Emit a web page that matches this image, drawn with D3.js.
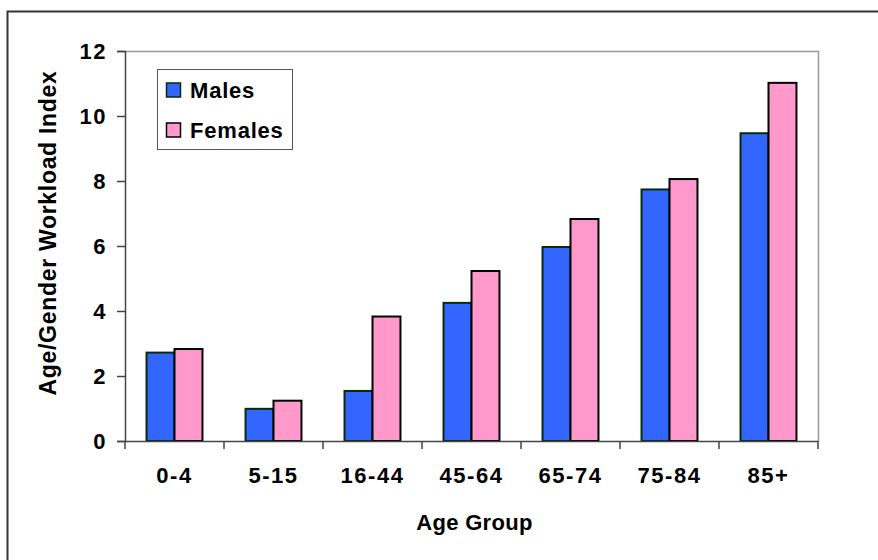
<!DOCTYPE html>
<html>
<head>
<meta charset="utf-8">
<script src="https://cdn.jsdelivr.net/npm/d3@7"></script>
<style>
  html, body { margin: 0; padding: 0; background: #fff; }
  svg { display: block; }
  text { font-family: "Liberation Sans", Arial, Helvetica, sans-serif; font-weight: bold; fill: #000; }
</style>
</head>
<body>
<svg id="chart" width="878" height="560"></svg>
<script>
// Age groups and workload index per gender
const ageGroups = ["0-4", "5-15", "16-44", "45-64", "65-74", "75-84", "85+"];
const seriesNames = ["Males", "Females"];
const malesValues = [2.72, 0.99, 1.54, 4.25, 5.97, 7.74, 9.47];
const femalesValues = [2.83, 1.24, 3.83, 5.23, 6.83, 8.06, 11.02];
const yTickValues = [0, 2, 4, 6, 8, 10, 12];

const colors = { Males: "#3366ff", Females: "#ff99cc" };
const strokes = { Males: "#0a2a0a", Females: "#000000" };

const rows = ageGroups.map((g, i) => ({ group: g, Males: malesValues[i], Females: femalesValues[i] }));

const svg = d3.select("#chart");
const plot = { left: 125, right: 818, top: 51, bottom: 441 };
const fontFamily = '"Liberation Sans", Arial, sans-serif';

// Outer chart frame
svg.append("path")
  .attr("d", `M7.5,${560 + 5} V11.5 H${878 + 5}`)
  .attr("fill", "none").attr("stroke", "#333").attr("stroke-width", 2);

const x0 = d3.scaleBand().domain(ageGroups).range([plot.left, plot.right]).paddingInner(0).paddingOuter(0);
const x1 = d3.scaleBand().domain(seriesNames).range([0, x0.bandwidth()]).paddingInner(0).paddingOuter(0.77);
const y = d3.scaleLinear().domain([0, 12]).range([plot.bottom, plot.top]);

// Plot area border (top and right)
svg.append("path")
  .attr("d", `M${plot.left},${plot.top + 0.5} H${plot.right + 0.5} V${plot.bottom}`)
  .attr("fill", "none").attr("stroke", "#999").attr("stroke-width", 1.5);

// Bars
const groups = svg.append("g").selectAll("g").data(rows).join("g")
  .attr("transform", d => `translate(${x0(d.group)},0)`);
groups.selectAll("rect")
  .data(d => seriesNames.map(k => ({ key: k, value: d[k] })))
  .join("rect")
  .attr("x", d => x1(d.key))
  .attr("y", d => y(d.value))
  .attr("width", x1.bandwidth())
  .attr("height", d => y(0) - y(d.value))
  .attr("fill", d => colors[d.key])
  .attr("stroke", d => strokes[d.key])
  .attr("stroke-width", 2);

// Y axis
const yAxis = svg.append("g")
  .attr("transform", `translate(${plot.left},0)`)
  .call(d3.axisLeft(y).tickValues(yTickValues).tickSize(8).tickPadding(10).tickFormat(d3.format("d")));
yAxis.select(".domain").attr("stroke", "#444").attr("stroke-width", 1.5);
yAxis.selectAll(".tick line").attr("stroke", "#444").attr("stroke-width", 1.5);
yAxis.selectAll(".tick text").style("font-size", "22px").style("font-weight", "bold")
  .style("letter-spacing", "1.5px").style("font-family", fontFamily).attr("fill", "#000");

// X axis: category labels centred in each band, ticks on band boundaries
const xAxis = svg.append("g")
  .attr("transform", `translate(0,${plot.bottom})`)
  .call(d3.axisBottom(x0).tickSize(0).tickPadding(26));
xAxis.select(".domain").attr("stroke", "#444").attr("stroke-width", 1.5);
xAxis.selectAll(".tick text").style("font-size", "22px").style("font-weight", "bold")
  .style("letter-spacing", "1.5px").style("font-family", fontFamily).attr("fill", "#000");
const boundaries = ageGroups.map(g => x0(g)).concat([x0.range()[1]]);
xAxis.selectAll(".bound").data(boundaries).join("line")
  .attr("class", "bound")
  .attr("x1", d => d).attr("x2", d => d)
  .attr("y1", 0).attr("y2", 8)
  .attr("stroke", "#444").attr("stroke-width", 1.5);

// Axis titles
svg.append("text")
  .attr("x", (plot.left + plot.right) / 2 + 3)
  .attr("y", 530)
  .attr("text-anchor", "middle")
  .style("font-size", "22px")
  .style("letter-spacing", "0.3px")
  .text("Age Group");
svg.append("text")
  .attr("transform", `translate(56,233) rotate(-90)`)
  .attr("text-anchor", "middle")
  .style("font-size", "23px")
  .style("letter-spacing", "0.7px")
  .text("Age/Gender Workload Index");

// Legend
const legend = svg.append("g").attr("transform", "translate(157,69)");
legend.append("rect")
  .attr("x", 0.5).attr("y", 0.5).attr("width", 135).attr("height", 80)
  .attr("fill", "#fff").attr("stroke", "#555").attr("stroke-width", 1);
seriesNames.forEach((k, i) => {
  const row = legend.append("g").attr("transform", `translate(0,${14 + i * 40})`);
  row.append("rect")
    .attr("x", 9.5).attr("y", 0).attr("width", 14).attr("height", 14)
    .attr("fill", colors[k]).attr("stroke", strokes[k]).attr("stroke-width", 1.5);
  row.append("text")
    .attr("x", 33).attr("y", 15)
    .style("font-size", "22px")
    .style("letter-spacing", "0.8px")
    .text(k);
});
</script>
</body>
</html>
